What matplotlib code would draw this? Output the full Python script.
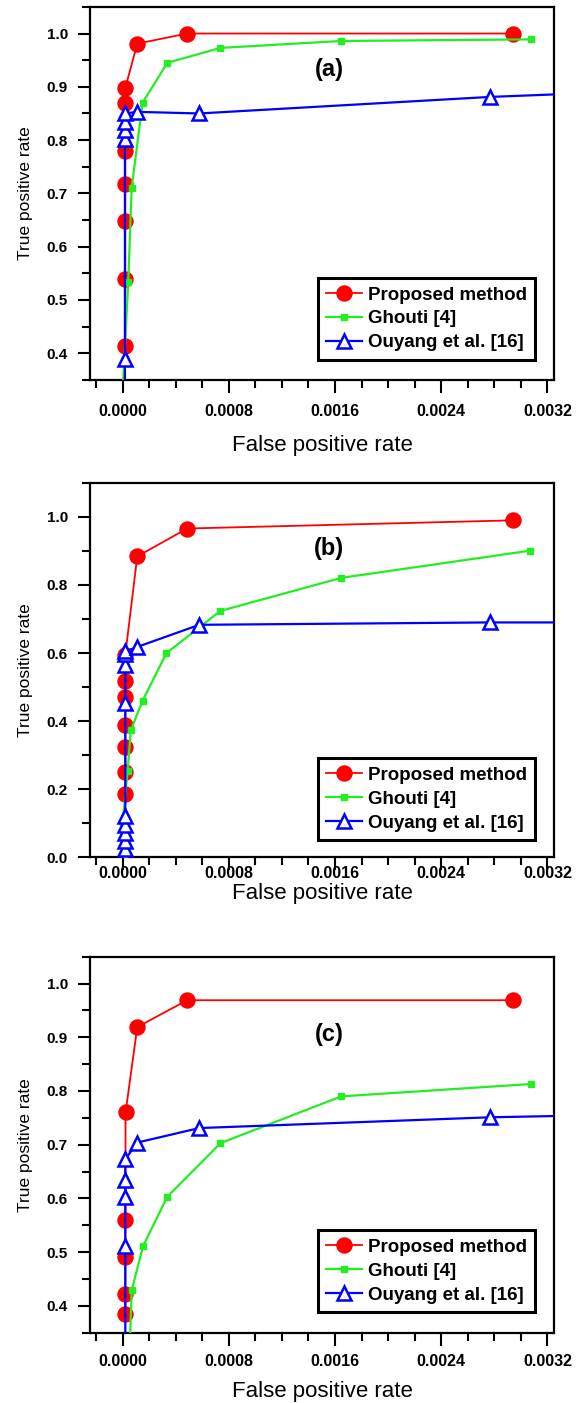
import matplotlib
matplotlib.use("Agg")
import matplotlib.pyplot as plt
from matplotlib.ticker import MultipleLocator, FormatStrFormatter

plt.rcParams['font.family'] = ['Liberation Sans', 'DejaVu Sans']

# ---------------- Data ----------------
# Panel (a)
a_prop_x = [0.00002, 0.00002, 0.00002, 0.00002, 0.00002, 0.00002, 0.00002, 0.00011, 0.000486, 0.00294]
a_prop_y = [0.413, 0.539, 0.649, 0.717, 0.780, 0.869, 0.898, 0.981, 1.000, 1.000]
a_gh_x = [0.0, 0.000042, 0.000068, 0.00015, 0.000336, 0.000737, 0.001648, 0.003078]
a_gh_y = [0.33, 0.533, 0.711, 0.870, 0.945, 0.973, 0.986, 0.989]
a_ou_x = [0.000017, 0.000017, 0.000017, 0.000017, 0.000017, 0.000017, 0.00011, 0.000577, 0.002764, 0.0040]
a_ou_y = [0.30, 0.389, 0.803, 0.819, 0.834, 0.850, 0.853, 0.850, 0.881, 0.893]

# Panel (b)
b_prop_x = [0.00002, 0.00002, 0.00002, 0.00002, 0.00002, 0.00002, 0.00002, 0.00011, 0.000486, 0.00294]
b_prop_y = [0.185, 0.251, 0.323, 0.390, 0.471, 0.517, 0.595, 0.884, 0.966, 0.990]
b_gh_x = [0.0, 0.0, 0.000037, 0.000062, 0.00015, 0.00033, 0.000737, 0.001648, 0.003072]
b_gh_y = [0.004, 0.100, 0.254, 0.374, 0.460, 0.600, 0.724, 0.821, 0.901]
b_ou_x = [0.00002, 0.00002, 0.00002, 0.00002, 0.00002, 0.00002, 0.00002, 0.00002, 0.00002,
          0.00002, 0.00011, 0.000577, 0.002764, 0.0040]
b_ou_y = [0.005, 0.025, 0.048, 0.072, 0.096, 0.120, 0.452, 0.566, 0.597, 0.605, 0.618, 0.683, 0.690, 0.690]

# Panel (c)
c_prop_x = [0.00002, 0.00002, 0.00002, 0.00002, 0.000022, 0.00011, 0.000486, 0.00294]
c_prop_y = [0.385, 0.422, 0.491, 0.560, 0.760, 0.919, 0.969, 0.969]
c_gh_x = [0.00005, 0.000068, 0.000155, 0.000336, 0.000737, 0.001648, 0.003078]
c_gh_y = [0.30, 0.429, 0.512, 0.603, 0.703, 0.790, 0.813]
c_ou_x = [0.00002, 0.00002, 0.00002, 0.00002, 0.00002, 0.00011, 0.000577, 0.002764, 0.0040]
c_ou_y = [0.30, 0.511, 0.603, 0.634, 0.673, 0.704, 0.731, 0.751, 0.757]

series_labels = ["Proposed method", "Ghouti [4]", "Ouyang et al. [16]"]
panel_tags = ["(a)", "(b)", "(c)"]
x_major_ticks = [0.0, 0.0008, 0.0016, 0.0024, 0.0032]

panels = [
    dict(prop=(a_prop_x, a_prop_y), gh=(a_gh_x, a_gh_y), ou=(a_ou_x, a_ou_y),
         ylim=(0.35, 1.05), ymaj=0.1, ymin=0.05, yfmt='%.1f',
         rect=[0.1552, 0.7292, 0.8, 0.2659], tag_y=0.831, leg_y=0.054,
         xpad=8, xlabpad=12),
    dict(prop=(b_prop_x, b_prop_y), gh=(b_gh_x, b_gh_y), ou=(b_ou_x, b_ou_y),
         ylim=(0.0, 1.1), ymaj=0.2, ymin=0.1, yfmt='%.1f',
         rect=[0.1552, 0.3890, 0.8, 0.2668], tag_y=0.824, leg_y=0.046,
         xpad=-3, xlabpad=1.5),
    dict(prop=(c_prop_x, c_prop_y), gh=(c_gh_x, c_gh_y), ou=(c_ou_x, c_ou_y),
         ylim=(0.35, 1.05), ymaj=0.1, ymin=0.05, yfmt='%.1f',
         rect=[0.1552, 0.0501, 0.8, 0.268], tag_y=0.792, leg_y=0.055,
         xpad=6, xlabpad=9),
]

RED = '#ff0000'
GREEN = '#22ee22'
BLUE = '#0000ff'

fig = plt.figure(figsize=(5.8, 14.03), dpi=100)

for p, tag in zip(panels, panel_tags):
    ax = fig.add_axes(p['rect'])
    l1, = ax.plot(*p['prop'], color=RED, lw=1.3, marker='o', ms=10.8,
                  mfc=RED, mec=RED, zorder=3, label=series_labels[0])
    l2, = ax.plot(*p['gh'], color=GREEN, lw=1.6, marker='s', ms=4.5,
                  mfc=GREEN, mec=GREEN, zorder=4, label=series_labels[1])
    l3, = ax.plot(*p['ou'], color=BLUE, lw=1.6, marker='^', ms=10,
                  mfc='white', mec=BLUE, mew=1.8, zorder=5, label=series_labels[2])

    ax.set_xlim(-0.000246, 0.00325)
    ax.set_ylim(*p['ylim'])
    ax.set_xticks(x_major_ticks)
    ax.xaxis.set_major_formatter(FormatStrFormatter('%.4f'))
    ax.xaxis.set_minor_locator(MultipleLocator(0.0002))
    ax.yaxis.set_major_locator(MultipleLocator(p['ymaj']))
    ax.yaxis.set_minor_locator(MultipleLocator(p['ymin']))
    ax.yaxis.set_major_formatter(FormatStrFormatter(p['yfmt']))

    for s in ax.spines.values():
        s.set_linewidth(1.6)
    ax.tick_params(which='major', direction='out', length=9, width=1.5)
    ax.tick_params(which='minor', direction='out', length=5.5, width=1.5)
    ax.tick_params(axis='y', which='major', pad=7, labelsize=11)
    ax.tick_params(axis='x', which='major', pad=p['xpad'], labelsize=11.5)
    for lab in ax.get_xticklabels() + ax.get_yticklabels():
        lab.set_fontweight('bold')

    ax.set_xlabel("False positive rate", fontsize=16, labelpad=p['xlabpad'])
    ax.set_ylabel("True positive rate", fontsize=12.5, labelpad=10)

    ax.text(0.515, p['tag_y'], tag, transform=ax.transAxes, fontsize=17,
            fontweight='bold', ha='center', va='center')

    leg = ax.legend(handles=[l1, l2, l3], loc='lower right',
                    bbox_to_anchor=(0.959, p['leg_y']), fancybox=False,
                    framealpha=1, edgecolor='black', borderaxespad=0,
                    prop=dict(size=13.5, weight='bold'), handlelength=1.9,
                    handletextpad=0.3, labelspacing=0.36, borderpad=0.45)
    leg.get_frame().set_linewidth(2.2)

fig.savefig("out.png", dpi=100)
